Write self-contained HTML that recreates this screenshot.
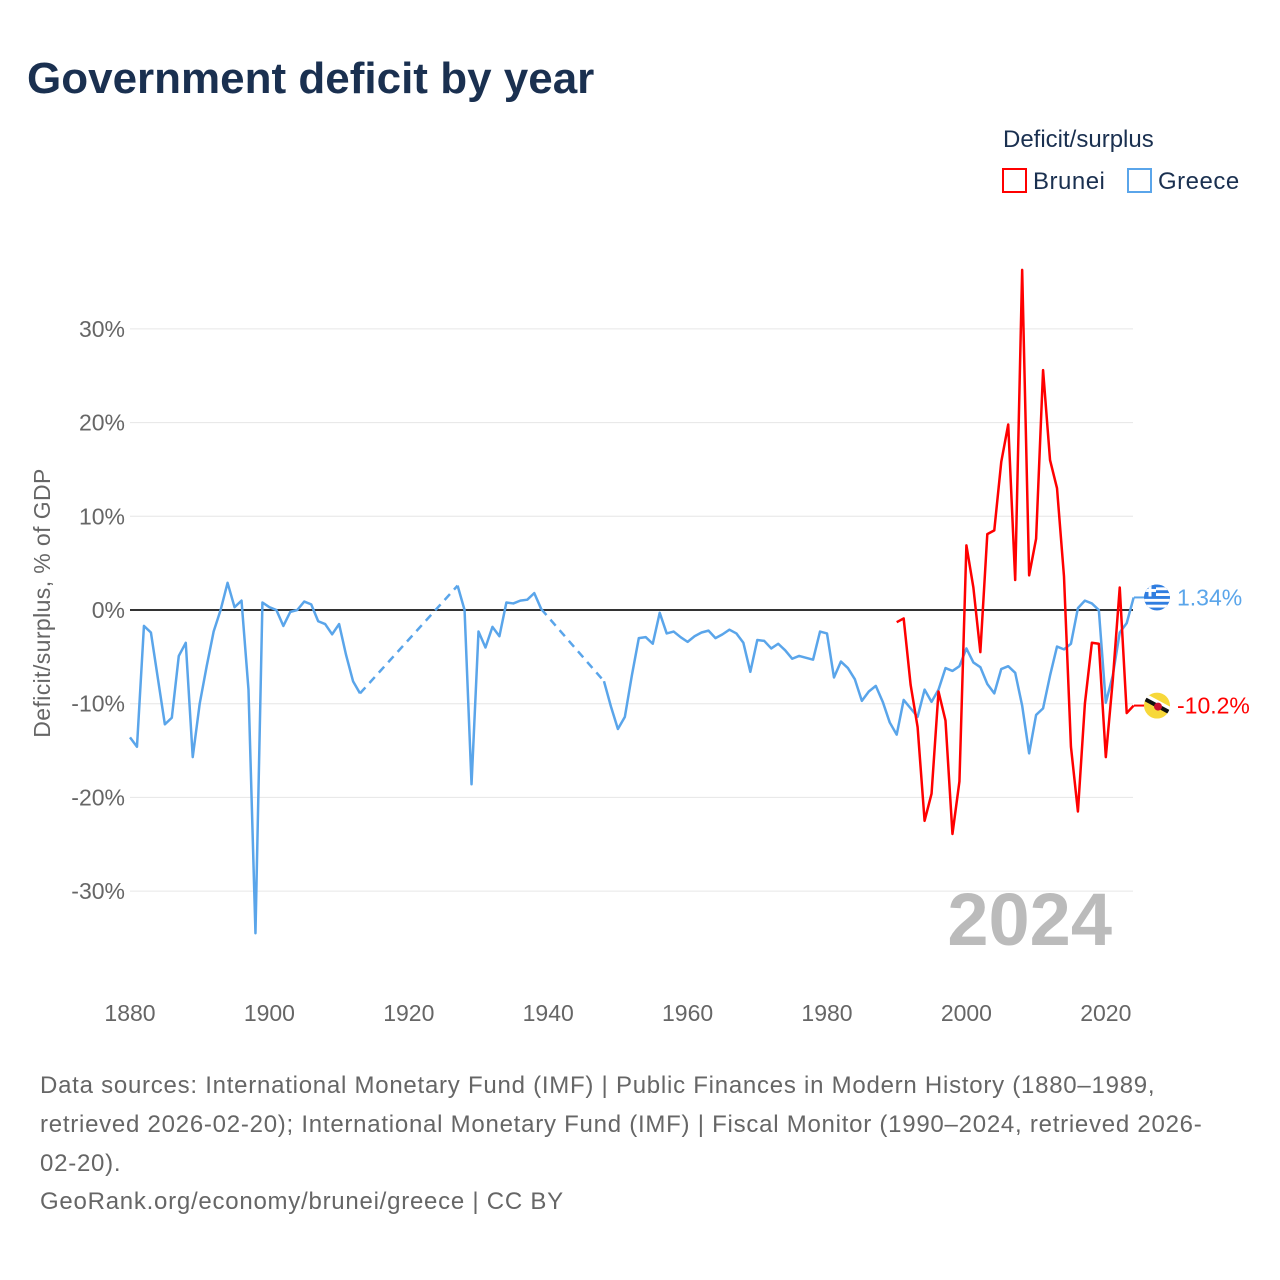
<!DOCTYPE html>
<html><head><meta charset="utf-8">
<style>
body{margin:0;background:#fff;font-family:"Liberation Sans",sans-serif;}
#wrap{position:relative;width:1280px;height:1280px;overflow:hidden;}
</style></head>
<body><div id="wrap">
<svg id="chart" width="1280" height="1280" xmlns="http://www.w3.org/2000/svg" font-family="Liberation Sans, sans-serif">
<text x="27" y="93" font-size="44" font-weight="bold" fill="#1a3050">Government deficit by year</text>
<text x="1003" y="147" font-size="24" fill="#1a3050">Deficit/surplus</text>
<g><rect x="1003" y="169" width="23" height="23" fill="none" stroke="#f00" stroke-width="2"/><text x="1033" y="189" font-size="24" fill="#1a3050" letter-spacing="0.5">Brunei</text></g>
<g><rect x="1128" y="169" width="23" height="23" fill="none" stroke="#5aa5ea" stroke-width="2"/><text x="1158" y="189" font-size="24" fill="#1a3050" letter-spacing="0.5">Greece</text></g>
<g id="grid"></g><g id="yt"></g><g id="xt"></g>
<text x="0" y="0" transform="translate(50,603) rotate(-90)" text-anchor="middle" font-size="23" fill="#666" letter-spacing="0.4">Deficit/surplus, % of GDP</text>
<text x="1112" y="945" text-anchor="end" font-size="74" font-weight="bold" fill="#bbb">2024</text>
<g id="series"></g>
<g font-size="24" fill="#666" letter-spacing="0.75">
<text x="40" y="1093">Data sources: International Monetary Fund (IMF) | Public Finances in Modern History (1880–1989,</text>
<text x="40" y="1132">retrieved 2026-02-20); International Monetary Fund (IMF) | Fiscal Monitor (1990–2024, retrieved 2026-</text>
<text x="40" y="1171">02-20).</text>
<text x="40" y="1209">GeoRank.org/economy/brunei/greece | CC BY</text>
</g>
</svg></div>
<script>
const yTicks=[30,20,10,0,-10,-20,-30];
const xTicks=[1880,1900,1920,1940,1960,1980,2000,2020];
const greeceEarlyYears=[1880,1881,1882,1883,1884,1885,1886,1887,1888,1889,1890,1891,1892,1893,1894,1895,1896,1897,1898,1899,1900,1901,1902,1903,1904,1905,1906,1907,1908,1909,1910,1911,1912,1913];
const greeceEarlyValues=[-13.6,-14.6,-1.7,-2.4,-7.3,-12.2,-11.5,-4.9,-3.5,-15.7,-10,-6,-2.3,0,2.9,0.3,1.0,-8.5,-34.5,0.8,0.3,0,-1.7,-0.2,0,0.9,0.6,-1.2,-1.5,-2.6,-1.5,-4.8,-7.6,-8.9];
const greeceMidYears=[1927,1928,1929,1930,1931,1932,1933,1934,1935,1936,1937,1938,1939];
const greeceMidValues=[2.6,0,-18.6,-2.3,-4.0,-1.8,-2.8,0.8,0.7,1.0,1.1,1.8,0.1];
const greeceLateStart=1948;
const greeceLateValues=[-7.6,-10.3,-12.7,-11.4,-7.0,-3.0,-2.9,-3.6,-0.3,-2.5,-2.3,-2.9,-3.4,-2.8,-2.4,-2.2,-3.0,-2.6,-2.1,-2.5,-3.5,-6.6,-3.2,-3.3,-4.1,-3.6,-4.3,-5.2,-4.9,-5.1,-5.3,-2.3,-2.5,-7.2,-5.5,-6.2,-7.4,-9.7,-8.7,-8.1,-9.8,-12.0,-13.3,-9.6,-10.5,-11.4,-8.5,-9.8,-8.5,-6.2,-6.5,-6.0,-4.1,-5.6,-6.1,-7.9,-8.9,-6.3,-6.0,-6.7,-10.2,-15.3,-11.2,-10.5,-7.0,-3.9,-4.2,-3.6,0.2,1.0,0.7,0.0,-9.9,-7.0,-2.4,-1.4,1.34];
const bruneiStart=1990;
const bruneiValues=[-1.3,-0.9,-8.0,-12.5,-22.5,-19.6,-8.7,-11.8,-23.9,-18.3,6.9,2.4,-4.5,8.1,8.5,15.8,19.8,3.2,36.3,3.7,7.6,25.6,16.0,13.0,3.6,-14.6,-21.5,-10.0,-3.5,-3.6,-15.7,-7.5,2.4,-11.0,-10.2];
const greeceYears=greeceEarlyYears.concat(greeceMidYears,greeceLateValues.map((v,i)=>greeceLateStart+i));
const greeceValues=greeceEarlyValues.concat(greeceMidValues,greeceLateValues);
const bruneiYears=bruneiValues.map((v,i)=>bruneiStart+i);
const NS='http://www.w3.org/2000/svg';
const X=y=>130+(y-1880)*6.97, Y=v=>610-v*9.37;
function mk(t,a,p){const e=document.createElementNS(NS,t);for(const k in a)e.setAttribute(k,a[k]);p.appendChild(e);return e;}
const grid=document.getElementById('grid'),yt=document.getElementById('yt'),xt=document.getElementById('xt'),ser=document.getElementById('series');
yTicks.forEach(v=>{const l=mk('line',{x1:130,x2:1133,y1:Y(v),y2:Y(v),stroke:v===0?'#333':'#e6e6e6','stroke-width':v===0?2:1},grid);


const t=mk('text',{x:125,y:Y(v)+8,'text-anchor':'end','font-size':23,fill:'#666'},yt);t.textContent=v+'%';

});
xTicks.forEach(v=>{const t=mk('text',{x:X(v),y:1021,'text-anchor':'middle','font-size':23,fill:'#666'},xt);t.textContent=v;

});
function draw(years,vals,color,name){
 const n=Math.min(years.length,vals.length);let seg=[];
 function flush(){if(seg.length>1){const p=mk('path',{d:'M'+seg.map(q=>q.join(',')).join('L'),stroke:color,'stroke-width':2.5,fill:'none','stroke-linejoin':'round'},ser);
  
  }
  seg=[];}
 for(let i=0;i<n;i++){
  if(i>0&&years[i]-years[i-1]>1){
   flush();
   const d=mk('path',{d:`M${X(years[i-1])},${Y(vals[i-1])}L${X(years[i])},${Y(vals[i])}`,stroke:color,'stroke-width':2.5,fill:'none','stroke-dasharray':'8,6'},ser);
   
   
  }
  seg.push([X(years[i]),Y(vals[i])]);}
 flush();
}
draw(greeceYears,greeceValues,'#5aa5ea','greece');
draw(bruneiYears,bruneiValues,'#f00','brunei');
function endLabel(v,color,name,label){
 const y=Y(v);
 const c=mk('line',{x1:1134,x2:1146,y1:y,y2:y,stroke:color,'stroke-width':2},ser);
 
 
 const g=mk('g',{},ser);
 
 
 mk('clipPath',{id:'clip-'+name},g).appendChild(Object.assign(document.createElementNS(NS,'circle'),{})).setAttribute('r','13');
 g.lastChild.firstChild.setAttribute('cx',1157);g.lastChild.firstChild.setAttribute('cy',y);
 const inner=mk('g',{'clip-path':`url(#clip-${name})`},g);
 if(name==='greece'){
  mk('rect',{x:1144,y:y-13,width:26,height:26,fill:'#2f7de0'},inner);
  for(let k=1;k<9;k+=2)mk('rect',{x:1144,y:y-13+k*26/9,width:26,height:26/9,fill:'#fff'},inner);
  mk('rect',{x:1144,y:y-13,width:12,height:12,fill:'#2f7de0'},inner);
  mk('rect',{x:1144,y:y-8.5,width:12,height:3,fill:'#fff'},inner);
  mk('rect',{x:1148.5,y:y-13,width:3,height:12,fill:'#fff'},inner);
 }else{
  mk('rect',{x:1144,y:y-13,width:26,height:26,fill:'#f7d83a'},inner);
  mk('path',{d:`M1144,${y-9}L1170,${y+5}`,stroke:'#fff',"stroke-width":7},inner);
  mk('path',{d:`M1144,${y-7}L1170,${y+7}`,stroke:'#111',"stroke-width":4},inner);
  mk('circle',{cx:1158,cy:y+1,r:4,fill:'#c8102e'},inner);
 }
 const t=mk('text',{x:1177,y:y+8,'font-size':23,fill:color},ser);t.textContent=label;
 
 
}
endLabel(greeceValues[greeceValues.length-1],'#5aa5ea','greece','1.34%');
endLabel(bruneiValues[bruneiValues.length-1],'#f00','brunei','-10.2%');
</script>
</body></html>
